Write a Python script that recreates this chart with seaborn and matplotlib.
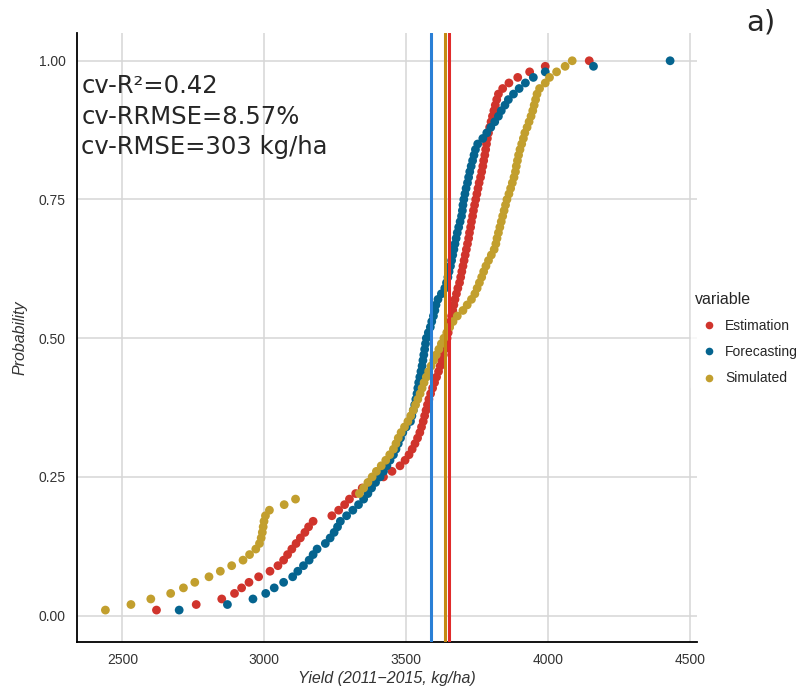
import matplotlib.pyplot as plt
import pandas as pd
import seaborn as sns

# yield values (kg/ha), sorted
estimation = [
    2620, 2760, 2850, 2895, 2920, 2946, 2980, 3020, 3048, 3068,
    3082, 3097, 3112, 3127, 3143, 3156, 3172, 3238, 3262, 3283,
    3300, 3322, 3345, 3370, 3420, 3450, 3478, 3496, 3510, 3521,
    3531, 3540, 3548, 3554, 3560, 3565, 3570, 3575, 3580, 3586,
    3593, 3600, 3607, 3614, 3620, 3626, 3631, 3635, 3640, 3644,
    3648, 3652, 3656, 3660, 3664, 3668, 3672, 3677, 3682, 3688,
    3692, 3696, 3700, 3704, 3708, 3712, 3716, 3720, 3723, 3727,
    3730, 3734, 3737, 3741, 3745, 3749, 3753, 3757, 3762, 3766,
    3770, 3773, 3777, 3780, 3783, 3786, 3790, 3794, 3799, 3804,
    3809, 3814, 3819, 3825, 3840, 3862, 3893, 3935, 3990, 4145,
]
forecasting = [
    2700, 2870, 2960, 3005, 3035, 3068, 3100, 3118, 3138, 3158,
    3172, 3186, 3215, 3232, 3246, 3258, 3268, 3290, 3312, 3332,
    3350, 3365, 3378, 3392, 3408, 3420, 3432, 3443, 3455, 3464,
    3472, 3480, 3488, 3500, 3515, 3520, 3525, 3530, 3534, 3538,
    3541, 3544, 3548, 3552, 3556, 3559, 3562, 3565, 3568, 3571,
    3578, 3585, 3590, 3596, 3601, 3605, 3612, 3624, 3636, 3642,
    3647, 3651, 3656, 3660, 3664, 3668, 3672, 3676, 3680, 3685,
    3690, 3695, 3698, 3700, 3703, 3707, 3711, 3716, 3720, 3724,
    3729, 3734, 3739, 3744, 3752, 3770, 3784, 3798, 3812, 3825,
    3835, 3848, 3860, 3878, 3898, 3920, 3948, 3990, 4160, 4430,
]
simulated = [
    2440, 2530, 2600, 2670, 2715, 2755, 2805, 2845, 2885, 2925,
    2948, 2970, 2983, 2989, 2993, 2996, 2999, 3004, 3018, 3070,
    3110, 3335, 3350, 3365, 3380, 3395, 3412, 3428, 3442, 3455,
    3464, 3472, 3482, 3494, 3506, 3516, 3525, 3533, 3541, 3549,
    3556, 3563, 3571, 3579, 3588, 3597, 3606, 3615, 3624, 3633,
    3643, 3653, 3665, 3680, 3700, 3715, 3730, 3742, 3750, 3758,
    3766, 3773, 3781, 3790, 3800, 3810, 3816, 3820, 3825, 3830,
    3835, 3840, 3845, 3850, 3855, 3862, 3868, 3874, 3880, 3885,
    3888, 3892, 3896, 3901, 3907, 3913, 3918, 3926, 3933, 3940,
    3946, 3951, 3956, 3961, 3970, 3990, 4005, 4030, 4060, 4085,
]
series_names = ["Estimation", "Forecasting", "Simulated"]
mean_yield = {"Forecasting": 3586, "Simulated": 3636, "Estimation": 3650}
stats_text = "cv-R\u00b2=0.42\ncv-RRMSE=8.57%\ncv-RMSE=303 kg/ha"

point_colors = {"Estimation": "#d0342c", "Forecasting": "#05648f", "Simulated": "#c29f2e"}
line_colors = {"Forecasting": "#2a7fd6", "Simulated": "#c48a12", "Estimation": "#e02b2b"}

frames = []
for name, vals in zip(series_names, [estimation, forecasting, simulated]):
    d = pd.DataFrame({"value": sorted(vals)})
    d["ecdf"] = (d.index + 1) / len(d)
    d["variable"] = name
    frames.append(d)
df = pd.concat(frames, ignore_index=True)

sns.set_style("white")
plt.rcParams["font.family"] = ["Liberation Sans", "DejaVu Sans"]

fig = plt.figure(figsize=(8.04, 6.88), dpi=100)
ax = fig.add_axes([0.0958, 0.0673, 0.7712, 0.8847])

sns.scatterplot(
    data=df, x="value", y="ecdf", hue="variable", hue_order=series_names,
    palette=point_colors, s=40, linewidth=0, ax=ax, zorder=3,
)
for name, v in mean_yield.items():
    ax.axvline(v, color=line_colors[name], linewidth=2.2, zorder=4)

ax.set_xlim(2340, 4525)
ax.set_ylim(-0.047, 1.05)
ax.set_xticks([2500, 3000, 3500, 4000, 4500])
ax.set_yticks([0, 0.25, 0.5, 0.75, 1.0])
ax.set_yticklabels(["0.00", "0.25", "0.50", "0.75", "1.00"])
ax.grid(True, color="#d6d6d6", linewidth=1.1)
ax.set_axisbelow(True)
for side in ["top", "right"]:
    ax.spines[side].set_visible(False)
for side in ["left", "bottom"]:
    ax.spines[side].set_color("black")
    ax.spines[side].set_linewidth(1.3)
ax.tick_params(axis="both", labelsize=10, colors="#333333", length=0, pad=8)

ax.set_xlabel("Yield (2011\u22122015, kg/ha)", fontsize=11.5, fontstyle="italic",
              color="#333333", labelpad=3)
ax.set_ylabel("Probability", fontsize=11.5, fontstyle="italic", color="#333333",
              labelpad=8)

ax.text(0.007, 0.932, stats_text, transform=ax.transAxes, fontsize=17.5,
        family="DejaVu Sans", va="top", ha="left", linespacing=1.33)
fig.text(0.946, 0.968, "a)", fontsize=21, family="DejaVu Sans", ha="center", va="center")

ax.legend_.remove()
handles = [plt.Line2D([], [], marker="o", linestyle="", markersize=5.5,
                      markerfacecolor=point_colors[n], markeredgewidth=0) for n in series_names]
leg = fig.legend(handles, series_names, title="variable", loc="upper left",
                 bbox_to_anchor=(0.851, 0.592), frameon=True, fontsize=10,
                 title_fontsize=11.5, handletextpad=0.15, labelspacing=0.88,
                 borderpad=0.3, handlelength=2.0)
leg.get_frame().set_edgecolor("white")
leg.get_frame().set_facecolor("white")
leg._legend_box.align = "left"

fig.savefig("out.png", dpi=100)
